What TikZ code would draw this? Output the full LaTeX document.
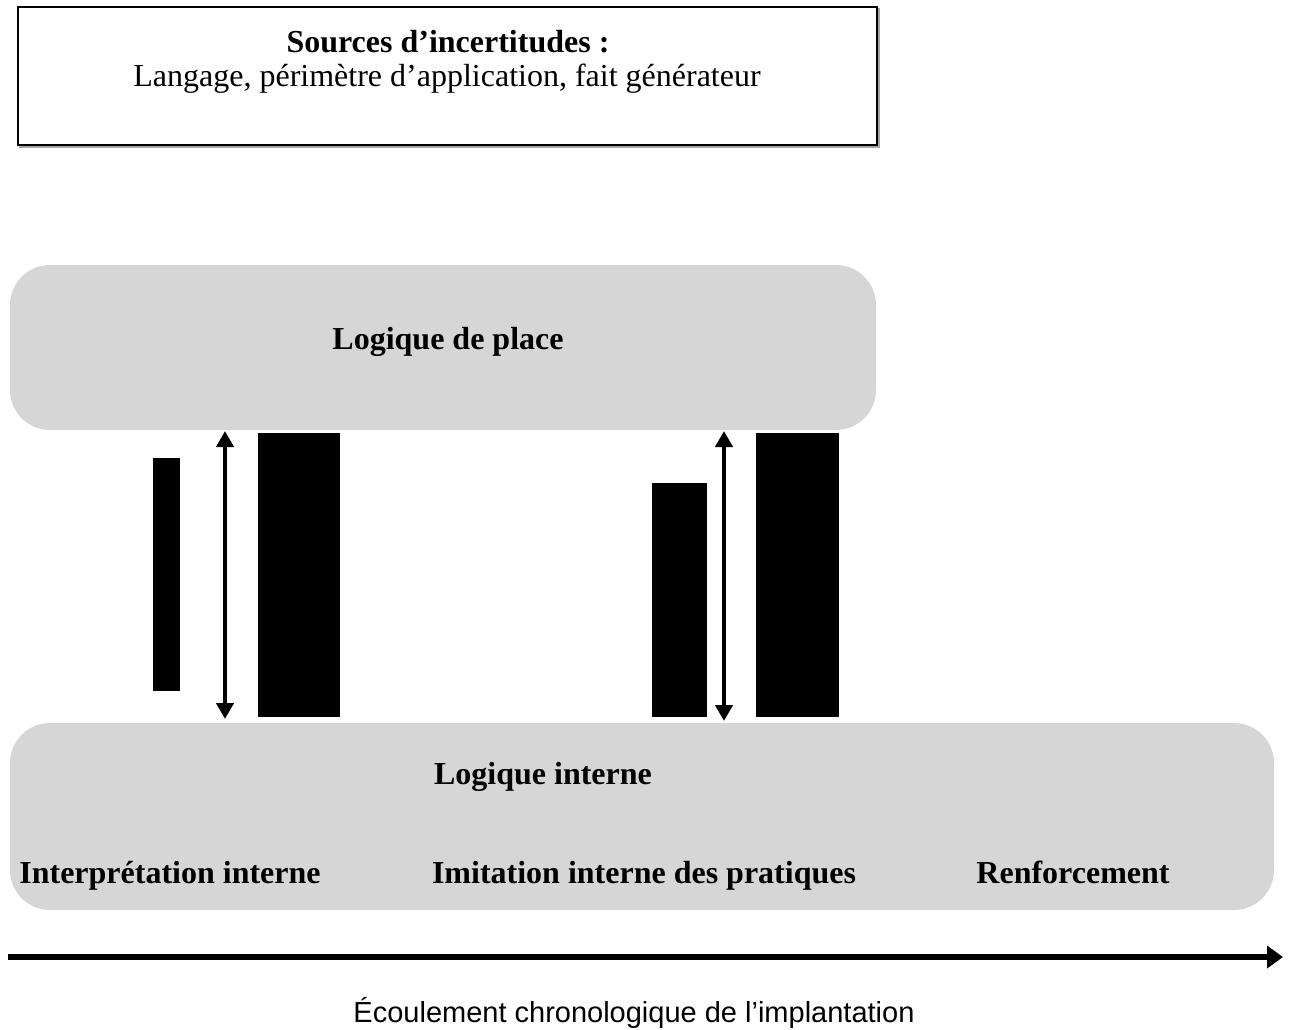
\documentclass[tikz,border=0pt]{standalone}
\usepackage{fontspec}
\setmainfont{Liberation Serif}
\newfontfamily\arialf{Liberation Sans}
\usetikzlibrary{arrows.meta}
\definecolor{lgray}{HTML}{D6D6D6}
\begin{document}
\begin{tikzpicture}[x=1pt,y=-1pt,
  box/.style={fill=lgray, rounded corners=40pt, inner sep=0pt, outer sep=0pt, anchor=north west},
  lbl/.style={font=\bfseries\fontsize{32}{36}\selectfont, inner sep=0pt, anchor=base},
  rlbl/.style={font=\fontsize{32}{36}\selectfont, inner sep=0pt, anchor=base},
  bar/.style={fill=black},
  dbl/.style={{Triangle[width=17pt,length=16pt]}-{Triangle[width=17pt,length=16pt]}, line width=4pt}]
\useasboundingbox (0,0) rectangle (1294,1029);
% top box
\draw[gray!70, line width=2pt] (20,9) rectangle (879,147);
\node[draw, line width=1.6pt, fill=white, minimum width=859pt, minimum height=138pt, inner sep=0pt, outer sep=0pt, anchor=north west] (src) at (18,7) {};
\node[lbl] (srct) at (448,52) {Sources d’incertitudes :};
\node[rlbl] (srcl) at (447,86) {Langage, périmètre d’application, fait générateur};
% rounded boxes
\node[box, minimum width=866pt, minimum height=165pt] (place) at (10,265) {};
\node[lbl] (placet) at (448,349) {Logique de place};
\node[box, minimum width=1264pt, minimum height=187pt] (interne) at (10,723) {};
\node[lbl] (internet) at (543,784) {Logique interne};
\node[lbl] (interp) at (170,883) {Interprétation interne};
\node[lbl] (imit) at (644,883) {Imitation interne des pratiques};
\node[lbl] (renf) at (1073,883) {Renforcement};
% black bars
\fill[bar] (153,458) rectangle (180,691);
\fill[bar] (258,433) rectangle (340,717);
\fill[bar] (652,483) rectangle (707,717);
\fill[bar] (756,433) rectangle (839,717);
% double arrows
\coordinate (a1t) at (225,431);
\coordinate (a1b) at (225,719);
\coordinate (a2t) at (724,431);
\coordinate (a2b) at (724,721);
\draw[dbl] (a1t) -- (a1b);
\draw[dbl] (a2t) -- (a2b);
% time arrow
\coordinate (ts) at (8,957);
\coordinate (te) at (1283,957);
\draw[line width=6.5pt, -{Triangle[width=22pt,length=16pt]}] (ts) -- (te);
\node[font=\arialf\fontsize{29}{34}\selectfont, inner sep=0pt, anchor=base] (time) at (634,1022) {Écoulement chronologique de l’implantation};
\end{tikzpicture}
\end{document}
